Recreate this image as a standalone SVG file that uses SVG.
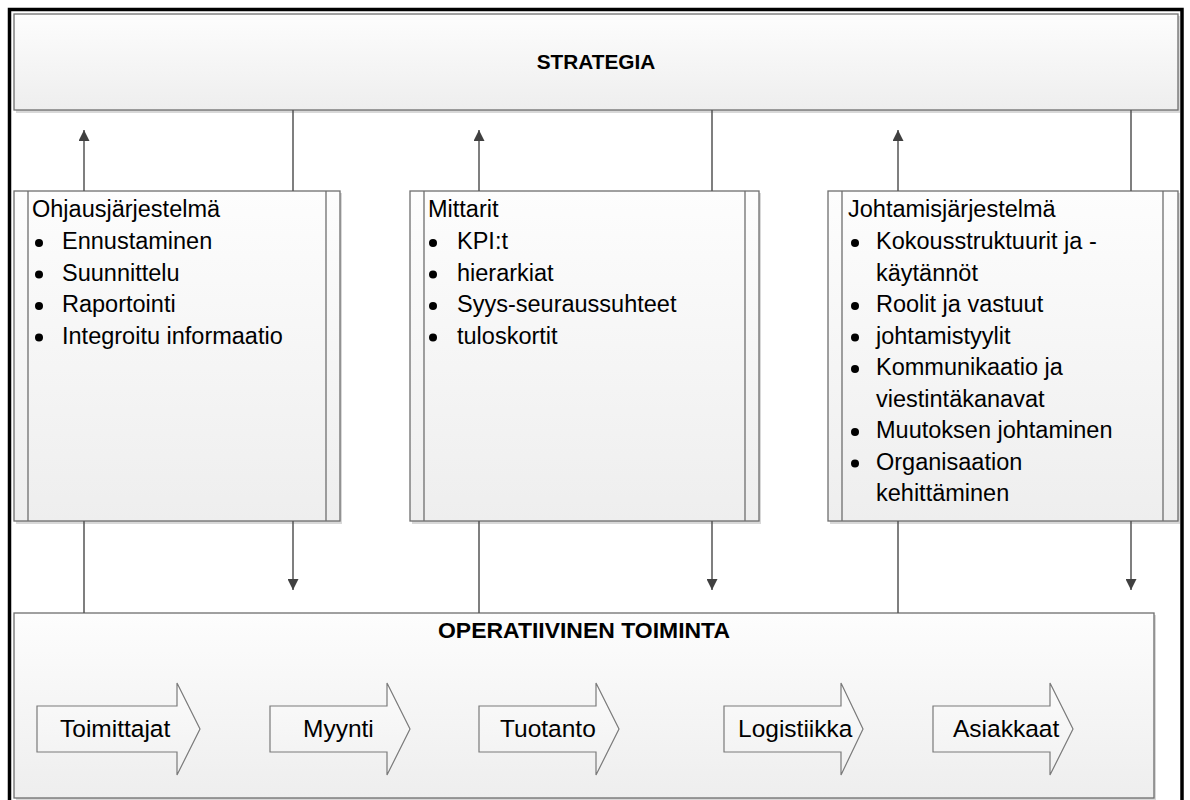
<svg xmlns="http://www.w3.org/2000/svg" width="1190" height="800" viewBox="0 0 1190 800">
  <defs>
    <linearGradient id="boxFill" x1="0" y1="0" x2="0" y2="1">
      <stop offset="0" stop-color="#fdfdfd"/>
      <stop offset="1" stop-color="#eeeeee"/>
    </linearGradient>
    <linearGradient id="arrowFill" x1="0" y1="0" x2="0" y2="1">
      <stop offset="0" stop-color="#fbfbfb"/>
      <stop offset="1" stop-color="#f1f1f1"/>
    </linearGradient>
    <marker id="head" markerUnits="userSpaceOnUse" markerWidth="11" markerHeight="11" refX="11" refY="5.5" orient="auto">
      <path d="M0,0 L11,5.5 L0,11 Z" fill="#404040"/>
    </marker>
  </defs>
  <style>
    .box { fill: url(#boxFill); stroke: #6e6e6e; stroke-width: 1.3; }
    .shadow { fill: #d8d8d8; }
    .rule { stroke: #6e6e6e; stroke-width: 1.3; }
    .conn { stroke: #555555; stroke-width: 1.5; fill: none; }
    .arrowed { marker-end: url(#head); }
    .block { fill: url(#arrowFill); stroke: #7a7a7a; stroke-width: 1.2; }
    .title { font-family: "Liberation Sans", Arial, sans-serif; font-weight: bold; fill: #000; }
    .txt { font-family: "Liberation Sans", Arial, sans-serif; font-size: 23.5px; fill: #000; }
    .lbl { font-family: "Liberation Sans", Arial, sans-serif; font-size: 24.5px; fill: #000; }
    .dot { fill: #000; }
  </style>

  <rect width="1190" height="800" fill="#ffffff"/>

  <!-- outer frame -->
  <rect x="9.5" y="9.5" width="1172.5" height="800" fill="none" stroke="#000" stroke-width="3.5"/>

  <!-- strategy band -->
  <g id="strategia">
    <rect class="shadow" x="16" y="16" width="1164" height="97"/>
    <rect class="box" x="14" y="14" width="1164" height="96"/>
    <text class="title" x="596" y="69" font-size="20.8" text-anchor="middle">STRATEGIA</text>
  </g>

  <!-- control system -->
  <g id="ohjausjarjestelma">
    <rect class="shadow" x="16" y="193" width="326" height="331"/>
    <rect class="box" x="14" y="191" width="326" height="330"/>
    <line class="rule" x1="28" y1="191" x2="28" y2="521"/>
    <line class="rule" x1="326" y1="191" x2="326" y2="521"/>
    <text class="txt" x="32" y="217">Ohjausjärjestelmä</text>
    <circle class="dot" cx="39" cy="243" r="4"/>
    <text class="txt" x="62" y="249">Ennustaminen</text>
    <circle class="dot" cx="39" cy="274.5" r="4"/>
    <text class="txt" x="62" y="280.5">Suunnittelu</text>
    <circle class="dot" cx="39" cy="306" r="4"/>
    <text class="txt" x="62" y="312">Raportointi</text>
    <circle class="dot" cx="39" cy="337.5" r="4"/>
    <text class="txt" x="62" y="343.5">Integroitu informaatio</text>
  </g>

  <!-- metrics -->
  <g id="mittarit">
    <rect class="shadow" x="412" y="193" width="349" height="331"/>
    <rect class="box" x="410" y="191" width="349" height="330"/>
    <line class="rule" x1="424" y1="191" x2="424" y2="521"/>
    <line class="rule" x1="745" y1="191" x2="745" y2="521"/>
    <text class="txt" x="428" y="217">Mittarit</text>
    <circle class="dot" cx="433" cy="243" r="4"/>
    <text class="txt" x="457" y="249">KPI:t</text>
    <circle class="dot" cx="433" cy="274.5" r="4"/>
    <text class="txt" x="457" y="280.5">hierarkiat</text>
    <circle class="dot" cx="433" cy="306" r="4"/>
    <text class="txt" x="457" y="312">Syys-seuraussuhteet</text>
    <circle class="dot" cx="433" cy="337.5" r="4"/>
    <text class="txt" x="457" y="343.5">tuloskortit</text>
  </g>

  <!-- management system -->
  <g id="johtamisjarjestelma">
    <rect class="shadow" x="830" y="193" width="350" height="331"/>
    <rect class="box" x="828" y="191" width="350" height="330"/>
    <line class="rule" x1="842" y1="191" x2="842" y2="521"/>
    <line class="rule" x1="1163" y1="191" x2="1163" y2="521"/>
    <text class="txt" x="848" y="217">Johtamisjärjestelmä</text>
    <circle class="dot" cx="855" cy="243" r="4"/>
    <text class="txt" x="876" y="249">Kokousstruktuurit ja -</text>
    <text class="txt" x="876" y="280.5">käytännöt</text>
    <circle class="dot" cx="855" cy="306" r="4"/>
    <text class="txt" x="876" y="312">Roolit ja vastuut</text>
    <circle class="dot" cx="855" cy="337.5" r="4"/>
    <text class="txt" x="876" y="343.5">johtamistyylit</text>
    <circle class="dot" cx="855" cy="369" r="4"/>
    <text class="txt" x="876" y="375">Kommunikaatio ja</text>
    <text class="txt" x="876" y="406.5">viestintäkanavat</text>
    <circle class="dot" cx="855" cy="432" r="4"/>
    <text class="txt" x="876" y="438">Muutoksen johtaminen</text>
    <circle class="dot" cx="855" cy="463.5" r="4"/>
    <text class="txt" x="876" y="469.5">Organisaation</text>
    <text class="txt" x="876" y="501">kehittäminen</text>
  </g>

  <!-- operations band with process chain -->
  <g id="operatiivinen">
    <rect class="shadow" x="16" y="615" width="1140" height="186"/>
    <rect class="box" x="14" y="613" width="1140" height="185"/>
    <text class="title" x="584" y="638" font-size="21.5" text-anchor="middle" textLength="292" lengthAdjust="spacingAndGlyphs">OPERATIIVINEN TOIMINTA</text>
  </g>
  <g id="toimittajat">
    <path class="block" d="M37,706 H177 V683 L200,729 L177,775 V752 H37 Z"/>
    <text class="lbl" x="60" y="737">Toimittajat</text>
  </g>
  <g id="myynti">
    <path class="block" d="M270,706 H387 V683 L410,729 L387,775 V752 H270 Z"/>
    <text class="lbl" x="303" y="737">Myynti</text>
  </g>
  <g id="tuotanto">
    <path class="block" d="M479,706 H596 V683 L619,729 L596,775 V752 H479 Z"/>
    <text class="lbl" x="500" y="737">Tuotanto</text>
  </g>
  <g id="logistiikka">
    <path class="block" d="M724,706 H841 V683 L863,729 L841,775 V752 H724 Z"/>
    <text class="lbl" x="738" y="737">Logistiikka</text>
  </g>
  <g id="asiakkaat">
    <path class="block" d="M933,706 H1050 V683 L1073,729 L1050,775 V752 H933 Z"/>
    <text class="lbl" x="953" y="737">Asiakkaat</text>
  </g>

  <!-- connectors -->
  <g id="connectors">
    <line class="conn arrowed" x1="84" y1="191" x2="84" y2="130"/>
    <line class="conn arrowed" x1="479" y1="191" x2="479" y2="130"/>
    <line class="conn arrowed" x1="898" y1="191" x2="898" y2="130"/>
    <line class="conn" x1="293" y1="110" x2="293" y2="191"/>
    <line class="conn" x1="712" y1="110" x2="712" y2="191"/>
    <line class="conn" x1="1131" y1="110" x2="1131" y2="191"/>
    <line class="conn" x1="84" y1="521" x2="84" y2="613"/>
    <line class="conn" x1="479" y1="521" x2="479" y2="613"/>
    <line class="conn" x1="898" y1="521" x2="898" y2="613"/>
    <line class="conn arrowed" x1="293" y1="521" x2="293" y2="590"/>
    <line class="conn arrowed" x1="712" y1="521" x2="712" y2="590"/>
    <line class="conn arrowed" x1="1131" y1="521" x2="1131" y2="590"/>
  </g>
</svg>
